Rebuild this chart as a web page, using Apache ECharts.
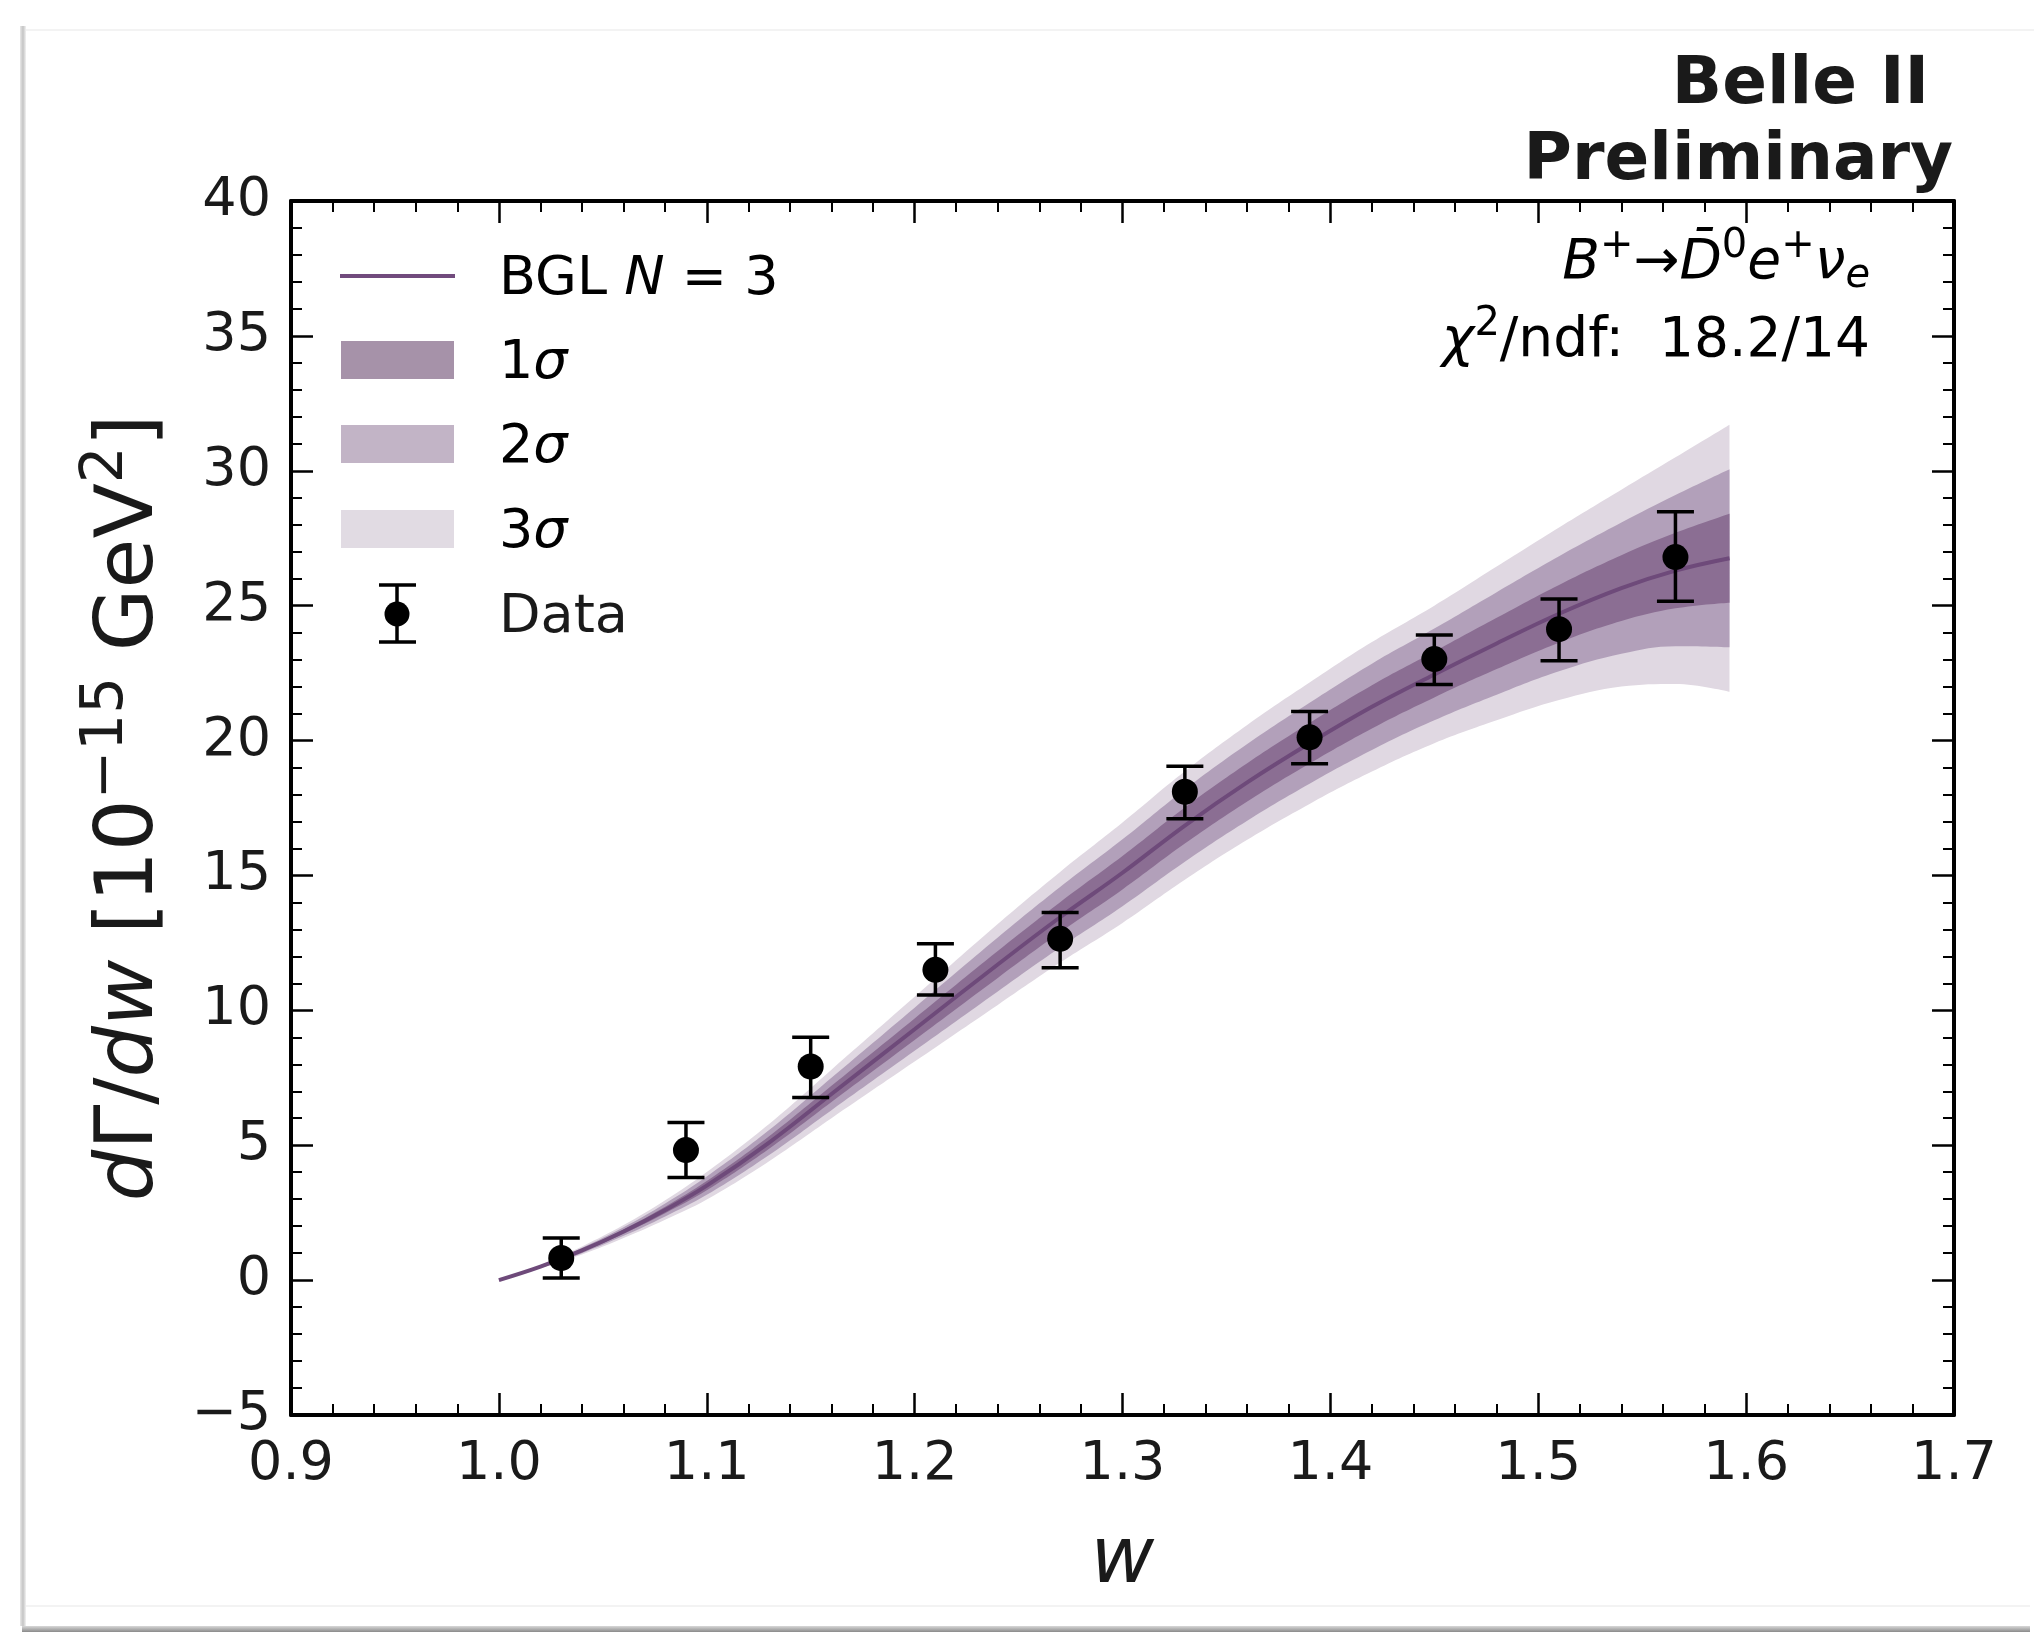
<!DOCTYPE html>
<html>
<head>
<meta charset="utf-8">
<script src="https://cdn.jsdelivr.net/npm/echarts@6/dist/echarts.min.js"></script>
<style>
html,body{margin:0;padding:0;background:#ffffff;}
#chart{width:2034px;height:1632px;}
</style>
</head>
<body>
<div id="chart"></div>
<script>
// ---- data ----
const wData  = [1.03, 1.09, 1.15, 1.21, 1.27, 1.33, 1.39, 1.45, 1.51, 1.566];
const yData  = [0.82, 4.82, 7.92, 11.50, 12.65, 18.10, 20.12, 23.02, 24.13, 26.80];
const yLow   = [0.08, 3.80, 6.77, 10.57, 11.58, 17.10, 19.14, 22.08, 22.96, 25.16];
const yHigh  = [1.56, 5.84, 9.00, 12.47, 13.63, 19.05, 21.08, 23.91, 25.25, 28.48];

const wFit   = [1.00, 1.02, 1.04, 1.06, 1.08, 1.10, 1.13, 1.16, 1.20, 1.24, 1.27, 1.30, 1.33, 1.36, 1.39, 1.42, 1.45, 1.48, 1.51, 1.54, 1.566, 1.592];
const fitCen = [0, 0.50, 1.10, 1.80, 2.60, 3.50, 5.10, 6.90, 9.30, 11.70, 13.45, 15.10, 16.85, 18.45, 19.90, 21.25, 22.45, 23.60, 24.70, 25.65, 26.30, 26.76];
const hw1    = [0, 0.02, 0.05, 0.08, 0.12, 0.17, 0.23, 0.30, 0.40, 0.50, 0.56, 0.62, 0.67, 0.71, 0.75, 0.80, 0.85, 0.95, 1.07, 1.22, 1.40, 1.65];
const hw2    = [0, 0.04, 0.10, 0.16, 0.24, 0.34, 0.46, 0.60, 0.80, 1.00, 1.12, 1.24, 1.34, 1.42, 1.50, 1.60, 1.70, 1.90, 2.13, 2.43, 2.80, 3.30];
const hw3    = [0, 0.06, 0.15, 0.24, 0.36, 0.51, 0.69, 0.90, 1.20, 1.50, 1.68, 1.86, 2.01, 2.13, 2.25, 2.40, 2.55, 2.85, 3.20, 3.65, 4.20, 4.95];

const xTicks = {min: 0.9, max: 1.7, interval: 0.1};
const yTicks = {min: -5, max: 40, interval: 5};

// ---- styles ----
const FONT = 'DejaVu Sans';
const TXT = '#1a1a1a';
const cLine = '#6e4a7a', c1 = '#8b6e93', c2 = '#b2a0ba', c3 = '#e0d8e2';
const l1 = '#a692a9', l2 = '#c2b4c6', l3 = '#e1dbe3', lLine = '#714b7d';

// a band: invisible lower edge + stacked width filled between the two edges.
// values are put first in each item so that the stack runs on the y axis.
function bandSeries(name, hw, color) {
  const lower = wFit.map((w, i) => [fitCen[i] - hw[i], w]);
  const width = wFit.map((w, i) => [2 * hw[i], w]);
  const common = {type: 'line', stack: name, smooth: 0.4, symbol: 'none', silent: true, z: 2,
                  encode: {x: 1, y: 0}, lineStyle: {opacity: 0, width: 0}};
  return [
    Object.assign({}, common, {name: name + ' lower', data: lower}),
    Object.assign({}, common, {name: name, data: width, areaStyle: {color: color, opacity: 1}})
  ];
}

function mkAxisCommon() {
  return {
    z: 10,
    axisLine: {show: true, onZero: false, lineStyle: {color: '#000', width: 4}},
    axisTick: {show: true, inside: true, length: 22, lineStyle: {color: '#000', width: 2.5}},
    minorTick: {show: true, splitNumber: 5, length: 11, lineStyle: {color: '#000', width: 2}},
    splitLine: {show: false},
    minorSplitLine: {show: false}
  };
}

const baseRich = {
  n: {fontFamily: FONT, fontSize: 55, lineHeight: 55, color: TXT, verticalAlign: 'bottom', padding: [0, 0, 8, 0]},
  i: {fontFamily: FONT, fontSize: 55, lineHeight: 55, color: TXT, fontStyle: 'italic', verticalAlign: 'bottom', padding: [0, 0, 8, 0]},
  sup: {fontFamily: FONT, fontSize: 40, lineHeight: 40, color: TXT, verticalAlign: 'bottom', padding: [0, 0, 32, 0]},
  sub: {fontFamily: FONT, fontSize: 40, lineHeight: 40, color: TXT, fontStyle: 'italic', verticalAlign: 'bottom', padding: [0, 0, 2, 0]}
};

const legRich = {
  a: {fontFamily: FONT, fontSize: 54, color: TXT},
  b: {fontFamily: FONT, fontSize: 54, color: TXT, fontStyle: 'italic'}
};

const rowY = [276, 360, 444, 529, 614];
const tY = 4;
const legendGraphics = [
  {type: 'line', shape: {x1: 340, y1: rowY[0], x2: 455, y2: rowY[0]}, style: {stroke: lLine, lineWidth: 4}},
  {type: 'rect', shape: {x: 341, y: rowY[1] - 19, width: 113, height: 38}, style: {fill: l1}},
  {type: 'rect', shape: {x: 341, y: rowY[2] - 19, width: 113, height: 38}, style: {fill: l2}},
  {type: 'rect', shape: {x: 341, y: rowY[3] - 19, width: 113, height: 38}, style: {fill: l3}},
  {type: 'line', shape: {x1: 397, y1: rowY[4] - 29, x2: 397, y2: rowY[4] + 28}, style: {stroke: '#000', lineWidth: 3.5}},
  {type: 'line', shape: {x1: 379, y1: rowY[4] - 29, x2: 416, y2: rowY[4] - 29}, style: {stroke: '#000', lineWidth: 3.5}},
  {type: 'line', shape: {x1: 379, y1: rowY[4] + 28, x2: 416, y2: rowY[4] + 28}, style: {stroke: '#000', lineWidth: 3.5}},
  {type: 'circle', shape: {cx: 397, cy: rowY[4], r: 12.5}, style: {fill: '#000'}},
  {type: 'text', x: 499, y: rowY[0] + tY, style: {text: '{a|BGL }{b|N}{a| = 3}', rich: legRich, verticalAlign: 'middle', align: 'left'}},
  {type: 'text', x: 499, y: rowY[1] + tY, style: {text: '{a|1}{b|σ}', rich: legRich, verticalAlign: 'middle', align: 'left'}},
  {type: 'text', x: 499, y: rowY[2] + tY, style: {text: '{a|2}{b|σ}', rich: legRich, verticalAlign: 'middle', align: 'left'}},
  {type: 'text', x: 499, y: rowY[3] + tY, style: {text: '{a|3}{b|σ}', rich: legRich, verticalAlign: 'middle', align: 'left'}},
  {type: 'text', x: 499, y: rowY[4] + tY, style: {text: 'Data', font: '54px "DejaVu Sans"', fill: TXT, verticalAlign: 'middle', align: 'left'}}
];

const frameGraphics = [
  {type: 'rect', silent: true, shape: {x: 20, y: 26, width: 6, height: 1600},
   style: {fill: new echarts.graphic.LinearGradient(0, 0, 1, 0, [{offset: 0, color: '#e8e8e8'}, {offset: 0.5, color: '#c4c4c4'}, {offset: 1, color: '#f2f2f2'}])}},
  {type: 'line', silent: true, shape: {x1: 26, y1: 30, x2: 2034, y2: 30}, style: {stroke: '#efefef', lineWidth: 1.5}},
  {type: 'line', silent: true, shape: {x1: 26, y1: 1606, x2: 2030, y2: 1606}, style: {stroke: '#efefef', lineWidth: 1.5}},
  {type: 'rect', silent: true, shape: {x: 22, y: 1626, width: 2008, height: 6},
   style: {fill: new echarts.graphic.LinearGradient(0, 0, 0, 1, [{offset: 0, color: '#d8d8d8'}, {offset: 1, color: '#8a8a8a'}])}}
];

const textGraphics = [
  {type: 'text', x: 1929, y: 86, style: {text: 'Belle II', font: 'bold 66px "DejaVu Sans"', fill: TXT, align: 'right', verticalAlign: 'middle'}},
  {type: 'text', x: 1953, y: 162, style: {text: 'Preliminary', font: 'bold 66px "DejaVu Sans"', fill: TXT, align: 'right', verticalAlign: 'middle'}},
  {type: 'text', x: 1870, y: 299, style: {text: '{i|B}{sup|+}{n|→}{i|D̄}{sup|0}{i|e}{sup|+}{i|ν}{sub|e}', rich: baseRich, align: 'right', verticalAlign: 'bottom'}},
  {type: 'text', x: 1870, y: 377, style: {text: '{i|χ}{sup|2}{n|/ndf:  18.2/14}', rich: baseRich, align: 'right', verticalAlign: 'bottom'}}
];

const option = {
  animation: false,
  backgroundColor: '#ffffff',
  textStyle: {fontFamily: FONT},
  grid: {left: 291, right: 80, top: 201, bottom: 217, outerBoundsMode: 'none', containLabel: false},
  xAxis: [
    Object.assign(mkAxisCommon(), {
      type: 'value', position: 'bottom', min: xTicks.min, max: xTicks.max, interval: xTicks.interval,
      axisLabel: {show: true, fontSize: 54, color: TXT, fontFamily: FONT, margin: 23, hideOverlap: false,
                  showMinLabel: true, showMaxLabel: true, formatter: v => v.toFixed(1)},
      name: 'w', nameLocation: 'middle', nameGap: 108,
      nameTextStyle: {fontSize: 78, fontStyle: 'italic', color: TXT, fontFamily: FONT}
    }),
    Object.assign(mkAxisCommon(), {
      type: 'value', position: 'top', min: xTicks.min, max: xTicks.max, interval: xTicks.interval,
      axisLabel: {show: false}
    })
  ],
  yAxis: [
    Object.assign(mkAxisCommon(), {
      type: 'value', position: 'left', min: yTicks.min, max: yTicks.max, interval: yTicks.interval,
      axisLabel: {show: true, fontSize: 54, color: TXT, fontFamily: FONT, margin: 20, hideOverlap: false,
                  showMinLabel: true, showMaxLabel: true,
                  formatter: v => (v < 0 ? '\u2212' + Math.abs(v) : String(v))},
      name: '{i|d}{n|Γ/}{i|dw}{n| [10}{sup|−15}{n| GeV}{sup|2}{n|]}',
      nameLocation: 'middle', nameRotate: 90, nameGap: 120,
      nameTextStyle: {
        fontSize: 81, color: TXT, fontFamily: FONT,
        rich: {
          n: {fontSize: 81, lineHeight: 81, fontFamily: FONT, color: TXT, verticalAlign: 'bottom', padding: [0, 0, 0, 0]},
          i: {fontSize: 81, lineHeight: 81, fontFamily: FONT, color: TXT, fontStyle: 'italic', verticalAlign: 'bottom', padding: [0, 0, 0, 0]},
          sup: {fontSize: 58, lineHeight: 58, fontFamily: FONT, color: TXT, verticalAlign: 'bottom', padding: [0, 0, 35, 0]}
        }
      }
    }),
    Object.assign(mkAxisCommon(), {
      type: 'value', position: 'right', min: yTicks.min, max: yTicks.max, interval: yTicks.interval,
      axisLabel: {show: false}
    })
  ],
  series: [
    ...bandSeries('3σ', hw3, c3),
    ...bandSeries('2σ', hw2, c2),
    ...bandSeries('1σ', hw1, c1),
    {type: 'line', name: 'BGL N = 3', data: wFit.map((w, i) => [w, fitCen[i]]), smooth: 0.4, symbol: 'none',
     lineStyle: {color: cLine, width: 4}, z: 3, silent: true},
    {type: 'custom', name: 'Data errors', data: wData.map((w, i) => [w, yLow[i], yHigh[i]]),
     encode: {x: 0, y: [1, 2]}, z: 5, silent: true,
     renderItem: function (params, api) {
       const lo = api.coord([api.value(0), api.value(1)]);
       const hi = api.coord([api.value(0), api.value(2)]);
       const h = 18.5;
       const st = {stroke: '#000', lineWidth: 3.5};
       return {type: 'group', children: [
         {type: 'line', shape: {x1: lo[0], y1: lo[1], x2: hi[0], y2: hi[1]}, style: st},
         {type: 'line', shape: {x1: lo[0] - h, y1: lo[1], x2: lo[0] + h, y2: lo[1]}, style: st},
         {type: 'line', shape: {x1: hi[0] - h, y1: hi[1], x2: hi[0] + h, y2: hi[1]}, style: st}
       ]};
     }},
    {type: 'scatter', name: 'Data', data: wData.map((w, i) => [w, yData[i]]), symbol: 'circle', symbolSize: 26,
     itemStyle: {color: '#000', opacity: 1}, z: 6, silent: true}
  ],
  graphic: [...frameGraphics, ...legendGraphics, ...textGraphics]
};

const chart = echarts.init(document.getElementById('chart'), null, {renderer: 'canvas'});
chart.setOption(option);
</script>
</body>
</html>
